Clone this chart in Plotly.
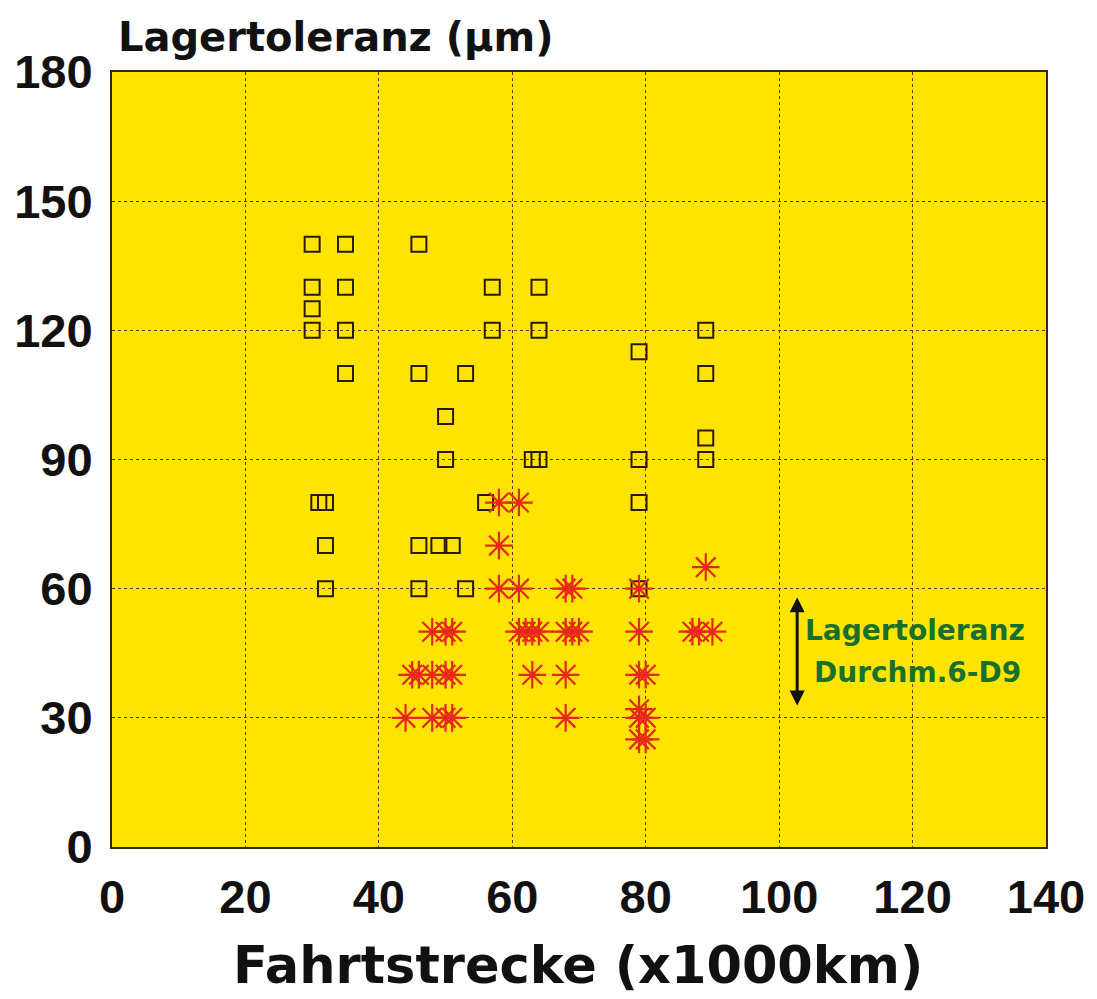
import plotly.graph_objects as go

# Open squares (black)
sq_x = [30, 30, 30, 30, 35, 35, 35, 35, 46, 46, 53, 50, 50, 57, 57, 64, 64,
        63, 64, 79, 79, 79, 79, 89, 89, 89, 89, 31, 32, 56, 32, 46, 49, 51,
        32, 46, 53]
sq_y = [140, 130, 125, 120, 140, 130, 120, 110, 140, 110, 110, 100, 90, 130, 120, 130, 120,
        90, 90, 115, 90, 80, 60, 120, 110, 95, 90, 80, 80, 80, 70, 70, 70, 70,
        60, 60, 60]

# Red asterisks
st_x = [58, 61, 58, 89, 58, 61, 68, 69, 79,
        48, 50, 51, 61, 62, 63, 64, 68, 69, 70, 79, 87, 88, 90,
        45, 46, 48, 50, 51, 63, 68, 79, 80,
        79, 44, 48, 50, 51, 68, 79, 80, 79, 80]
st_y = [80, 80, 70, 65, 60, 60, 60, 60, 60,
        50, 50, 50, 50, 50, 50, 50, 50, 50, 50, 50, 50, 50, 50,
        40, 40, 40, 40, 40, 40, 40, 40, 40,
        32, 30, 30, 30, 30, 30, 30, 30, 25, 25]

x_ticks = [0, 20, 40, 60, 80, 100, 120, 140]
y_ticks = [0, 30, 60, 90, 120, 150, 180]

fig = go.Figure()
fig.add_trace(go.Scatter(
    x=sq_x, y=sq_y, mode="markers",
    marker=dict(symbol="square-open", size=15, color="#2a1a0c",
                line=dict(width=2, color="#2a1a0c")),
    showlegend=False))
fig.add_trace(go.Scatter(
    x=st_x, y=st_y, mode="markers",
    marker=dict(symbol="asterisk-open", size=23, color="#e8261c",
                line=dict(width=2.2, color="#e8261c")),
    showlegend=False))

grid_col = "#7a2c0c"
tick_font = dict(family="Liberation Sans", size=47, color="#111111", weight="bold")
fig.update_xaxes(range=[0, 140], tickvals=x_ticks, ticktext=[str(v) for v in x_ticks],
                 showgrid=True, gridcolor=grid_col, griddash="dot", gridwidth=1.4,
                 showline=True, mirror=True, linecolor="#3a2412", linewidth=2,
                 zeroline=False, ticks="", ticklabelstandoff=8,
                 tickfont=tick_font)
fig.update_yaxes(range=[0, 180], tickvals=y_ticks, ticktext=[str(v) for v in y_ticks],
                 showgrid=True, gridcolor=grid_col, griddash="dot", gridwidth=1.4,
                 showline=True, mirror=True, linecolor="#3a2412", linewidth=2,
                 zeroline=False, ticks="", ticklabelstandoff=8,
                 tickfont=tick_font)

annotations = [
    dict(xref="paper", yref="paper", x=0.004, y=1.045, xanchor="left", yanchor="middle",
         text="Lagertoleranz (µm)", showarrow=False,
         font=dict(family="DejaVu Sans", size=40, color="#111111", weight="bold")),
    dict(xref="paper", yref="paper", x=0.499, y=-0.153, xanchor="center", yanchor="middle",
         text="Fahrtstrecke (x1000km)", showarrow=False,
         font=dict(family="DejaVu Sans", size=51, color="#111111", weight="bold")),
    dict(xref="x", yref="y", x=102.7, y=58, axref="x", ayref="y", ax=102.7, ay=32.5,
         text="", showarrow=True, arrowhead=2, arrowside="end+start", arrowsize=1,
         arrowwidth=3, arrowcolor="#111111"),
    dict(xref="x", yref="y", x=120.4, y=50.4, text="Lagertoleranz", showarrow=False,
         xanchor="center", yanchor="middle",
         font=dict(family="DejaVu Sans", size=28, color="#17702c", weight="bold")),
    dict(xref="x", yref="y", x=120.8, y=40.6, text="Durchm.6-D9", showarrow=False,
         xanchor="center", yanchor="middle",
         font=dict(family="DejaVu Sans", size=28, color="#17702c", weight="bold")),
]

fig.update_layout(
    width=1097, height=999,
    margin=dict(l=112, r=47, t=72, b=152),
    paper_bgcolor="white", plot_bgcolor="#ffe400",
    annotations=annotations,
)

fig.write_html("out.html", config={"displayModeBar": False},
               post_script="document.body.style.margin='0';document.body.style.overflow='hidden';")
